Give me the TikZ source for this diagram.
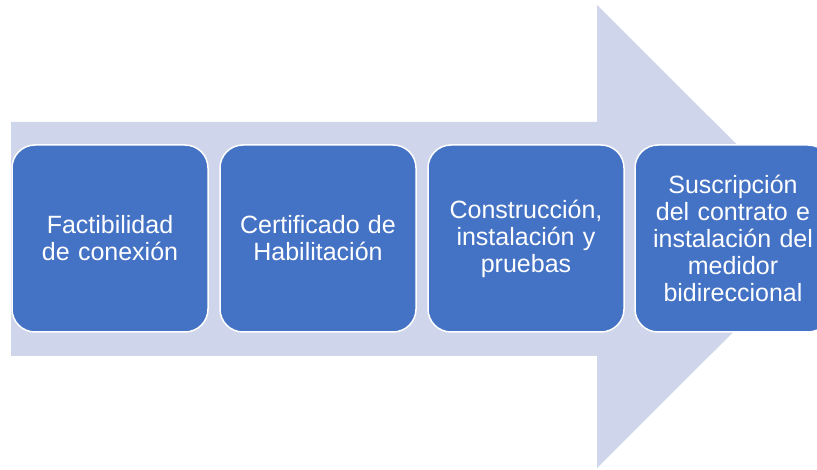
\documentclass[tikz,border=0pt]{standalone}
\usepackage{fontspec}
\setmainfont{Liberation Sans}
\definecolor{arrowfill}{HTML}{CFD5EA}
\definecolor{stepblue}{HTML}{4472C4}
\tikzset{
  stepbox/.style={draw=white, line width=1.5pt, fill=stepblue, rounded corners=23pt,
    minimum width=196pt, minimum height=187pt, text width=180pt, align=center,
    text=white, font=\fontsize{25pt}{27pt}\selectfont},
}

\begin{document}
\begin{tikzpicture}[x=1pt,y=-1pt]
	\useasboundingbox (0,0) rectangle (817,470);
	\clip (0,0) rectangle (817,470);
	% big arrow behind the steps
	\fill[arrowfill] (11,122) -- (597,122) -- (597,5) -- (829,236.5) -- (597,468) -- (597,356) -- (11,356) -- cycle;

	\node[stepbox] (fact) at (110,238.5) {Factibilidad\\de conexión};
	\node[stepbox] (cert) at (318,238.5) {Certificado de\\Habilitación};
	\node[stepbox] (cons) at (526,238.5) {Construcción,\\instalación y\\pruebas};
	\node[stepbox] (susc) at (733,238.5) {Suscripción\\del contrato e\\instalación del\\medidor\\bidireccional};
\end{tikzpicture}
\end{document}
